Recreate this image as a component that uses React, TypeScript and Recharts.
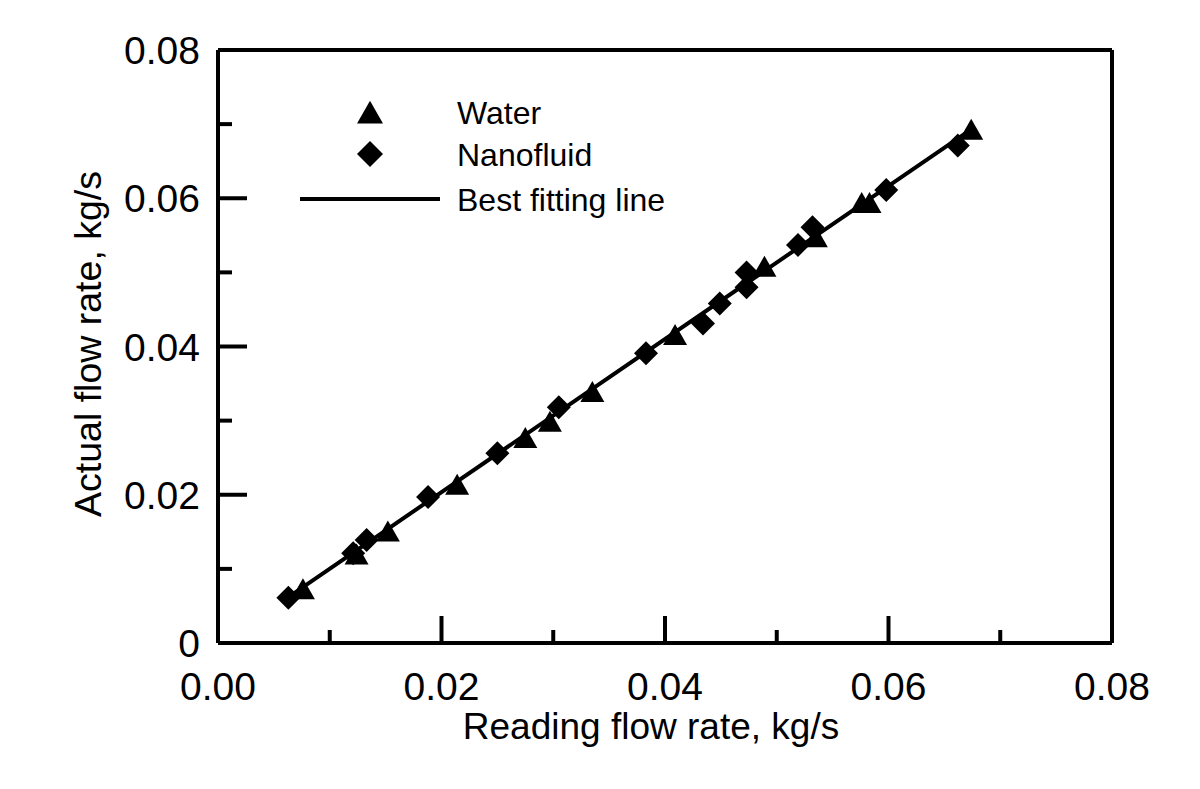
import React from "react";
import {
  Legend,
  Scatter,
  ScatterChart,
  XAxis,
  YAxis,
} from "recharts";

// Water (triangles)
const waterX = [0.0076, 0.0124, 0.0152, 0.0214, 0.0275, 0.0297, 0.0335, 0.0409, 0.0489, 0.0535, 0.0576, 0.0583, 0.0674];
const waterY = [0.0072, 0.0119, 0.015, 0.0213, 0.0276, 0.0298, 0.0338, 0.0415, 0.0507, 0.0547, 0.0593, 0.0593, 0.0692];

// Nanofluid (diamonds)
const nanoX = [0.0063, 0.0121, 0.0133, 0.0188, 0.025, 0.0305, 0.0383, 0.0434, 0.0449, 0.0473, 0.0473, 0.0519, 0.0532, 0.0598, 0.0662];
const nanoY = [0.0061, 0.0121, 0.0139, 0.0197, 0.0256, 0.0318, 0.0391, 0.0431, 0.0458, 0.048, 0.05, 0.0537, 0.0561, 0.0611, 0.0671];

// best fitting line end points
const fitX = [0.0063, 0.0673];
const fitY = [0.0062, 0.0692];

const xTicks = [0, 0.01, 0.02, 0.03, 0.04, 0.05, 0.06, 0.07, 0.08];
const yTicks = [0, 0.01, 0.02, 0.03, 0.04, 0.05, 0.06, 0.07, 0.08];
const xLabels = ["0.00", "", "0.02", "", "0.04", "", "0.06", "", "0.08"];
const yLabels = ["0", "", "0.02", "", "0.04", "", "0.06", "", "0.08"];

const water = waterX.map((x, i) => ({ x, y: waterY[i] }));
const nano = nanoX.map((x, i) => ({ x, y: nanoY[i] }));
const fit = fitX.map((x, i) => ({ x, y: fitY[i] }));

const FONT = "'Liberation Sans', Arial, sans-serif";

const Triangle = ({ cx, cy, s = 12 }: any) => (
  <polygon
    points={`${cx},${cy - s * 0.95} ${cx + s},${cy + s * 0.8} ${cx - s},${cy + s * 0.8}`}
    fill="#000"
  />
);

const Diamond = ({ cx, cy, s = 12 }: any) => (
  <polygon
    points={`${cx},${cy - s} ${cx + s},${cy} ${cx},${cy + s} ${cx - s},${cy}`}
    fill="#000"
  />
);

const tickIndex = (v: number) => Math.round(v * 100);

const XTick = ({ x, y, payload }: any) => {
  const i = tickIndex(payload.value);
  const major = i % 2 === 0;
  return (
    <g>
      {i > 0 && i < 8 && (
        <line x1={x} x2={x} y1={y} y2={y - (major ? 27 : 13)} stroke="#000" strokeWidth={4} />
      )}
      <text x={x} y={y + 57} textAnchor="middle" fontSize={39} fontFamily={FONT} fill="#000">
        {xLabels[i]}
      </text>
    </g>
  );
};

const YTick = ({ x, y, payload }: any) => {
  const i = tickIndex(payload.value);
  const major = i % 2 === 0;
  return (
    <g>
      {i > 0 && i < 8 && (
        <line x1={x} x2={x + (major ? 29 : 14)} y1={y} y2={y} stroke="#000" strokeWidth={4} />
      )}
      <text x={x - 18} y={y + 14} textAnchor="end" fontSize={39} fontFamily={FONT} fill="#000">
        {yLabels[i]}
      </text>
    </g>
  );
};

const LegendBox = () => (
  <svg width={440} height={135} style={{ display: "block" }}>
    <Triangle cx={80} cy={24} s={13} />
    <Diamond cx={80} cy={65} s={13} />
    <line x1={10} x2={150} y1={110} y2={110} stroke="#000" strokeWidth={4} />
    <text x={167} y={35} fontSize={32} fontFamily={FONT}>Water</text>
    <text x={167} y={77} fontSize={32} fontFamily={FONT}>Nanofluid</text>
    <text x={167} y={122} fontSize={32} fontFamily={FONT}>Best fitting line</text>
  </svg>
);

const axisLine = { stroke: "#000", strokeWidth: 4 };

export default function App() {
  return (
    <div style={{ position: "absolute", left: 0, top: 0, background: "#fff" }}>
      <ScatterChart
        width={1200}
        height={789}
        margin={{ top: 49, right: 87, bottom: 145, left: 217 }}
      >
        <XAxis
          type="number"
          dataKey="x"
          domain={[0, 0.08]}
          ticks={xTicks}
          interval={0}
          height={1}
          tickSize={0}
          tickMargin={0}
          tickLine={false}
          axisLine={axisLine}
          tick={<XTick />}
          label={{
            content: () => (
              <text x={651} y={739} textAnchor="middle" fontSize={37} fontFamily={FONT} fill="#000">
                Reading flow rate, kg/s
              </text>
            ),
          }}
        />
        <XAxis
          xAxisId="top"
          orientation="top"
          type="number"
          domain={[0, 0.08]}
          height={1}
          tick={false}
          tickLine={false}
          axisLine={axisLine}
        />
        <YAxis
          type="number"
          dataKey="y"
          domain={[0, 0.08]}
          ticks={yTicks}
          interval={0}
          width={1}
          tickSize={0}
          tickMargin={0}
          tickLine={false}
          axisLine={axisLine}
          tick={<YTick />}
          label={{
            content: () => (
              <text
                x={88}
                y={344}
                transform="rotate(-90, 88, 344)"
                textAnchor="middle"
                dominantBaseline="central"
                fontSize={37.5}
                fontFamily={FONT}
                fill="#000"
              >
                Actual flow rate, kg/s
              </text>
            ),
          }}
        />
        <YAxis
          yAxisId="right"
          orientation="right"
          type="number"
          domain={[0, 0.08]}
          width={1}
          tick={false}
          tickLine={false}
          axisLine={axisLine}
        />
        <Legend
          layout="horizontal"
          verticalAlign="middle"
          align="center"
          wrapperStyle={{ left: 290, top: 89, width: 440 }}
          content={() => <LegendBox />}
        />
        <Scatter
          name="Best fitting line"
          data={fit}
          line={{ stroke: "#000", strokeWidth: 4 }}
          shape={() => <g />}
          isAnimationActive={false}
        />
        <Scatter
          name="Water"
          data={water}
          shape={(p: any) => <Triangle cx={p.cx} cy={p.cy} />}
          isAnimationActive={false}
        />
        <Scatter
          name="Nanofluid"
          data={nano}
          shape={(p: any) => <Diamond cx={p.cx} cy={p.cy} />}
          isAnimationActive={false}
        />
      </ScatterChart>
    </div>
  );
}
